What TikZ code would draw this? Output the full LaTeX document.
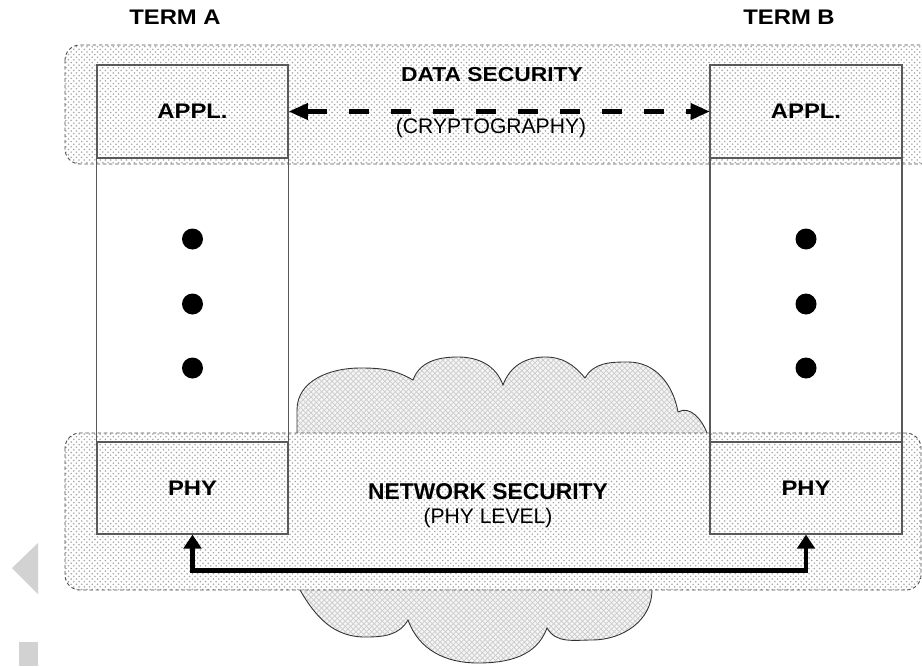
\documentclass[tikz,border=0pt]{standalone}
\usepackage{fontspec}
\setmainfont{Liberation Sans}
\newfontfamily\widefont[FakeStretch=1.13]{Liberation Sans}
\usetikzlibrary{arrows.meta,patterns}
\tikzset{
	band/.style={preaction={fill=white},pattern=crosshatch dots,pattern color=gray!70,
		draw=gray!60!black,dash pattern=on 2pt off 1.5pt,line width=0.5pt,rounded corners=0.3cm},
	layer/.style={draw=gray!70!black,line width=0.7pt,minimum width=3.82cm,inner sep=0pt,
		font=\widefont\bfseries\fontsize{12}{14}\selectfont},
	title/.style={font=\widefont\bfseries\fontsize{12}{14}\selectfont},
	sub/.style={font=\fontsize{12}{14}\selectfont},
	dasharrow/.style={line width=2.5pt,dash pattern=on 11.5pt off 12.5pt,
		{Triangle[length=11pt,width=9pt]}-{Triangle[length=11pt,width=9pt]}},
	linkarrow/.style={line width=2.8pt,
		{Triangle[length=8pt,width=10pt]}-{Triangle[length=8pt,width=10pt]}}
}
\begin{document}
\begin{tikzpicture}[x=0.02cm,y=0.02cm]
			\useasboundingbox (0,-666) rectangle (922,0);
			% cloud behind the network band
			\draw[gray!40!black,line width=0.5pt,preaction={fill=gray!8},pattern=crosshatch,pattern color=gray!40]
				(297,-445) -- (297,-410) to[out=90,in=180] (360,-368) to[out=0,in=150] (413,-380)
				to[out=70,in=180] (458,-357) to[out=0,in=110] (503,-385)
				to[out=70,in=180] (545,-357) to[out=0,in=130] (585,-378)
				to[out=60,in=180] (628,-362) to[out=0,in=100] (678,-412)
				to[out=30,in=110] (707,-433) -- (707,-445) -- (652,-585) -- (652,-590)
				to[out=-90,in=0] (592,-640) to[out=180,in=-60] (547,-628)
				to[out=-110,in=0] (478,-663) to[out=180,in=-70] (408,-620)
				to[out=-120,in=0] (365,-637) to[out=180,in=-60] (300,-590) -- cycle;
			% security bands
			\draw[band] (65,-45) rectangle (935,-164);
			\draw[band] (65,-433) rectangle (921,-590);
			% terminals
			\node[layer,minimum height=1.86cm] (applA) at (192.5,-111.5) {APPL.};
			\node[layer,minimum height=1.84cm] (phyA) at (192.5,-488) {PHY};
			\node[layer,minimum height=1.86cm] (applB) at (806,-111.5) {APPL.};
			\node[layer,minimum height=1.84cm] (phyB) at (806,-488) {PHY};
			\draw[gray!70!black,line width=0.7pt] (applA.north west) rectangle (phyA.south east);
			\draw[gray!70!black,line width=0.7pt] (applB.north west) rectangle (phyB.south east);
			\foreach \y in {-239,-304,-368} {
				\fill (applA.center |- 0,\y) circle[radius=0.21cm];
				\fill (applB.center |- 0,\y) circle[radius=0.21cm];
			}
			\node[title] (termA) at (175,-17) {TERM A};
			\node[title] (termB) at (789,-17) {TERM B};
			% labels
			\node[title,font=\widefont\bfseries\fontsize{11.5}{13}\selectfont] (data) at (492,-75) {DATA SECURITY};
			\node[sub] (crypto) at (491,-128) {(CRYPTOGRAPHY)};
			\node[title,font=\bfseries\fontsize{13}{15}\selectfont] (net) at (488,-492) {NETWORK SECURITY};
			\node[sub] (phylevel) at (488,-518) {(PHY LEVEL)};
			% links
			\draw[dasharrow] (applA.east) -- (applB.west);
			\draw[linkarrow] (phyA.south) -- ++(0,-36) -| (phyB.south);
			% side marks
			\fill[gray!35] (38,-543) -- (12,-568) -- (38,-594) -- cycle;
			\fill[gray!35] (19,-642) rectangle (38,-666);
		\end{tikzpicture}
\end{document}
